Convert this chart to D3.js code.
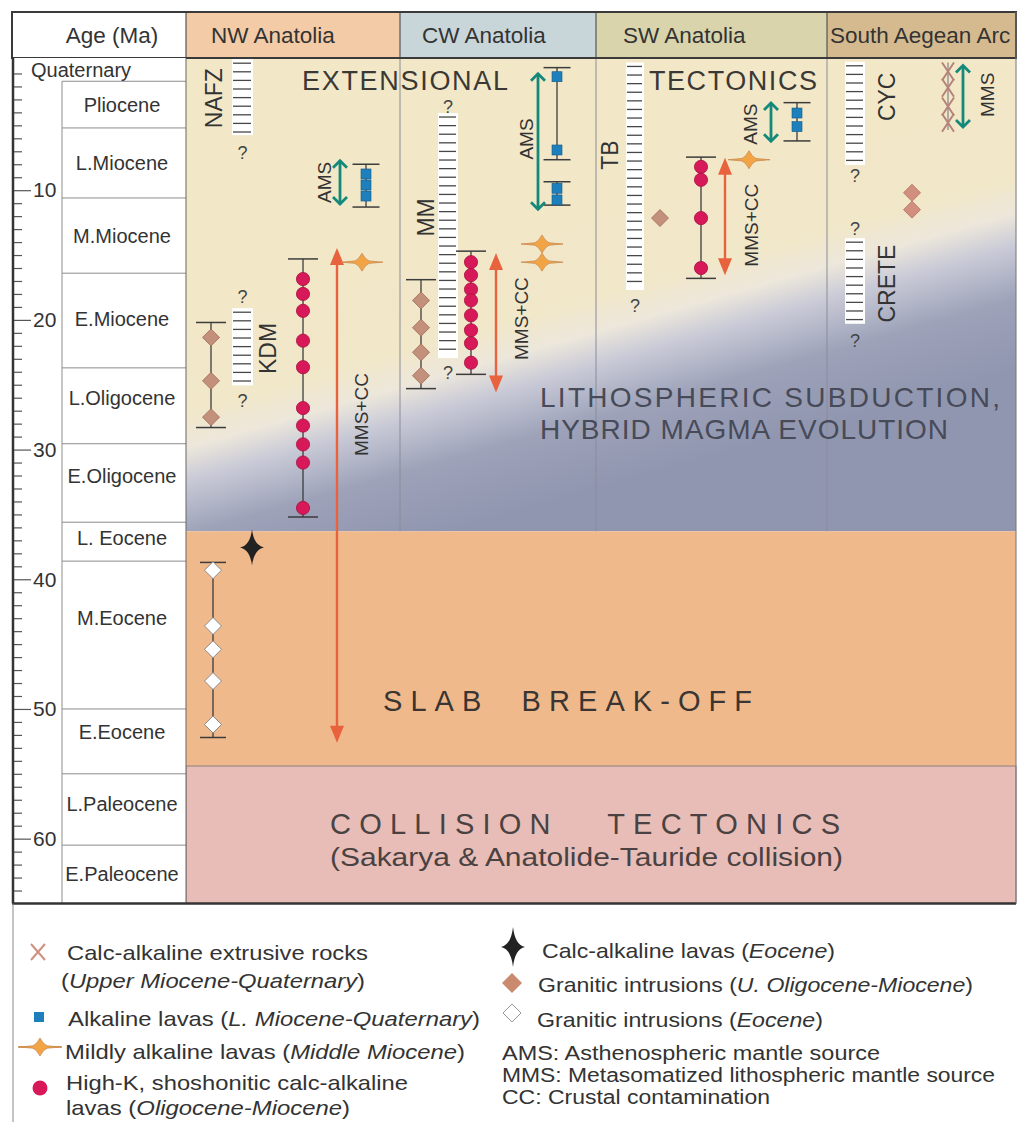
<!DOCTYPE html>
<html><head><meta charset="utf-8">
<script src="https://cdn.jsdelivr.net/npm/d3@7"></script>
<style>
body{margin:0;background:#fff}
svg{display:block;font-family:"Liberation Sans",Arial,Helvetica,sans-serif}
</style>
</head><body>
<svg id="chart" width="1018" height="1122"></svg>
<script>
// ---------------- DATA ----------------
const regions = ["NW Anatolia", "CW Anatolia", "SW Anatolia", "South Aegean Arc"];
const epochNames = ["Quaternary","Pliocene","L.Miocene","M.Miocene","E.Miocene","L.Oligocene","E.Oligocene","L. Eocene","M.Eocene","E.Eocene","L.Paleocene","E.Paleocene"];
const epochBounds = [-0.2, 1.6, 5.2, 10.6, 16.4, 23.7, 29.55, 35.6, 38.6, 50.0, 55.0, 60.5, 65];
const epochLabelAges = [0.75, 3.4, 7.9, 13.5, 19.9, 26.0, 32.0, 36.8, 43.0, 51.8, 57.3, 62.7];
const majorTicks = [10, 20, 30, 40, 50, 60];
const stageNames = ["EXTENSIONAL TECTONICS", "SLAB BREAK-OFF", "COLLISION TECTONICS"];
const stageBounds = [-0.2, 36.3, 54.4, 65];
const subductionText = ["LITHOSPHERIC SUBDUCTION,", "HYBRID MAGMA EVOLUTION"];
const collisionSub = "(Sakarya & Anatolide-Tauride collision)";

// hatched bars of metamorphic/volcanic provinces (ages, Ma)
const provinces = [
  {name:"NAFZ",  lane:"nwBar", from:-0.1,  to:5.75,  qTop:null,  qBot:7.1,  labelLane:"nafzLbl", labelAt:2.9},
  {name:"KDM",   lane:"nwBar", from:19.1,  to:25.05, qTop:18.25, qBot:26.2, labelLane:"kdmLbl",  labelAt:22.2},
  {name:"MM",    lane:"cwBar", from:4.05,  to:22.95, qTop:3.55,  qBot:24.05,labelLane:"mmLbl",   labelAt:12.1},
  {name:"TB",    lane:"swBar", from:0.15,  to:17.7,  qTop:null,  qBot:18.9, labelLane:"tbLbl",   labelAt:7.3},
  {name:"CYC",   lane:"saBar", from:0.1,   to:8.05,  qTop:null,  qBot:8.85, labelLane:"saLbl",   labelAt:2.8},
  {name:"CRETE", lane:"saBar", from:13.7,  to:20.3,  qTop:12.95, qBot:21.6, labelLane:"saLbl",   labelAt:17.2}
];
// age ranges with caps
const ranges = [
  {kind:"granite",    lane:"nwDia",   from:20.2,  to:28.3},
  {kind:"hik",        lane:"nwRed",   from:15.3,  to:35.2},
  {kind:"alk",        lane:"nwBlue",  from:8.0,   to:11.3},
  {kind:"eocGranite", lane:"nwWhite", from:38.7,  to:52.2},
  {kind:"granite",    lane:"cwDia",   from:16.9,  to:25.3},
  {kind:"hik",        lane:"cwRed",   from:14.7,  to:24.2},
  {kind:"alk",        lane:"cwBlue",  from:0.55,  to:7.65},
  {kind:"alk",        lane:"cwBlue",  from:9.35,  to:11.15},
  {kind:"hik",        lane:"swRed",   from:7.45,  to:16.8},
  {kind:"alk",        lane:"swBlue",  from:3.25,  to:6.2},
  {kind:"calcx",      lane:"saX",     from:0.15,  to:5.35}
];
const graniteMio = [
  {lane:"nwDia", age:21.35}, {lane:"nwDia", age:24.7}, {lane:"nwDia", age:27.5},
  {lane:"cwDia", age:18.5}, {lane:"cwDia", age:20.6}, {lane:"cwDia", age:22.5}, {lane:"cwDia", age:24.3},
  {lane:"swDia", age:12.15},
  {lane:"saDia", age:10.2}, {lane:"saDia", age:11.5}
];
const graniteEoc = [
  {lane:"nwWhite", age:39.3}, {lane:"nwWhite", age:43.6}, {lane:"nwWhite", age:45.4},
  {lane:"nwWhite", age:47.85}, {lane:"nwWhite", age:51.2}
];
const highK = [
  {lane:"nwRed", age:16.85}, {lane:"nwRed", age:18.0}, {lane:"nwRed", age:19.3}, {lane:"nwRed", age:21.6},
  {lane:"nwRed", age:23.65}, {lane:"nwRed", age:26.8}, {lane:"nwRed", age:28.15}, {lane:"nwRed", age:29.6},
  {lane:"nwRed", age:31.0}, {lane:"nwRed", age:34.5},
  {lane:"cwRed", age:15.55}, {lane:"cwRed", age:16.55}, {lane:"cwRed", age:17.65}, {lane:"cwRed", age:18.5},
  {lane:"cwRed", age:19.65}, {lane:"cwRed", age:20.8}, {lane:"cwRed", age:21.8}, {lane:"cwRed", age:23.3},
  {lane:"swRed", age:8.2}, {lane:"swRed", age:9.2}, {lane:"swRed", age:12.15}, {lane:"swRed", age:16.0}
];
const alkaline = [
  {lane:"nwBlue", age:8.75}, {lane:"nwBlue", age:9.6}, {lane:"nwBlue", age:10.45},
  {lane:"cwBlue", age:1.25}, {lane:"cwBlue", age:6.9}, {lane:"cwBlue", age:9.85}, {lane:"cwBlue", age:10.75},
  {lane:"swBlue", age:4.05}, {lane:"swBlue", age:5.1}
];
const mildAlk = [
  {lane:"nwStar", age:15.55}, {lane:"cwStar", age:14.15}, {lane:"cwStar", age:15.55}, {lane:"swStar", age:7.65}
];
const calcEocene = [{lane:"nwBlack", age:37.55}];
const calcExtrusive = [{lane:"saX", age:0.85}, {lane:"saX", age:2.1}, {lane:"saX", age:3.55}, {lane:"saX", age:4.8}];
const sources = [
  {label:"AMS",    kind:"ams", lane:"nwTeal",  from:7.65, to:11.15, textLane:"nwAmsTxt", textAt:9.4},
  {label:"MMS+CC", kind:"mms", lane:"nwArrow", from:14.45,to:52.6,  textLane:"nwMmsTxt", textAt:27.3},
  {label:"AMS",    kind:"ams", lane:"cwTeal",  from:0.95, to:11.55, textLane:"cwAmsTxt", textAt:6.05},
  {label:"MMS+CC", kind:"mms", lane:"cwArrow", from:14.85,to:25.6,  textLane:"cwMmsTxt", textAt:19.9},
  {label:"AMS",    kind:"ams", lane:"swTeal",  from:3.2,  to:6.3,   textLane:"swAmsTxt", textAt:4.9},
  {label:"MMS+CC", kind:"mms", lane:"swArrow", from:7.5,  to:16.55, textLane:"swMmsTxt", textAt:12.7},
  {label:"MMS",    kind:"ams", lane:"saTeal",  from:0.3,  to:5.2,   textLane:"saMmsTxt", textAt:2.65}
];
const legendLeft = [
  {sym:"x",      lines:[[{t:"Calc-alkaline extrusive rocks"}], [{t:"("},{t:"Upper Miocene-Quaternary",i:1},{t:")"}]]},
  {sym:"square", lines:[[{t:"Alkaline lavas ("},{t:"L. Miocene-Quaternary",i:1},{t:")"}]]},
  {sym:"spark",  lines:[[{t:"Mildly alkaline lavas ("},{t:"Middle Miocene",i:1},{t:")"}]]},
  {sym:"circle", lines:[[{t:"High-K, shoshonitic calc-alkaline"}], [{t:"lavas ("},{t:"Oligocene-Miocene",i:1},{t:")"}]]}
];
const legendRight = [
  {sym:"star",    lines:[[{t:"Calc-alkaline lavas ("},{t:"Eocene",i:1},{t:")"}]]},
  {sym:"diamond", lines:[[{t:"Granitic intrusions ("},{t:"U. Oligocene-Miocene",i:1},{t:")"}]]},
  {sym:"wdiamond",lines:[[{t:"Granitic intrusions ("},{t:"Eocene",i:1},{t:")"}]]}
];
const abbreviations = ["AMS: Asthenospheric mantle source", "MMS: Metasomatized lithospheric mantle source", "CC: Crustal contamination"];

// ---------------- LAYOUT ----------------
const svg = d3.select("#chart");
const HEAD_TOP = 12, HEAD_BOT = 58, LEFT = 12, AXIS_X = 13, EPOCH_L = 62, X0 = 186, X1 = 1016;
const regionEdges = [186, 400, 596, 827, 1016];
const headerFill = ["#f3cba6", "#c9d6d9", "#d9d4ab", "#d6ba8f"];
const headerTextX = [211, 422, 623, 830];
const y = d3.scaleLinear().domain([0, 65]).range([60.5, 903.5]);
const lanes = {
  nwBar:[232,253], cwBar:[438,458], swBar:[626,644], saBar:[845,865],
  nafzLbl:214, kdmLbl:268, mmLbl:426, tbLbl:610, saLbl:887,
  nwDia:211, nwWhite:213, nwRed:303, nwArrow:337, nwStar:362, nwTeal:340, nwBlue:366,
  nwAmsTxt:324, nwMmsTxt:361, nwBlack:252,
  cwDia:421, cwRed:471, cwArrow:496, cwStar:542, cwTeal:538, cwBlue:557, cwAmsTxt:526, cwMmsTxt:521,
  swDia:660, swRed:701, swArrow:725, swStar:749, swTeal:771, swBlue:797, swAmsTxt:750, swMmsTxt:751,
  saDia:912, saX:948, saTeal:963, saMmsTxt:987
};
const capW = {granite:30, hik:30, alk:27, eocGranite:26, calcx:0};
const C = {
  text:"#333", line:"#3c3c3c", red:"#d7195a", redS:"#a8103f", blue:"#1e7fbd", blueS:"#135a88",
  brown:"#c3907b", brownS:"#9a6a58", teal:"#14897a", arrow:"#e8633d", orange:"#f2a444", orangeS:"#c98a50"
};

function star4(rx, ry, k){
  return `M0,${-ry} Q${k},${-k} ${rx},0 Q${k},${k} 0,${ry} Q${-k},${k} ${-rx},0 Q${-k},${-k} 0,${-ry}Z`;
}
const sparkPath = "M-21,0 L-7,-1.2 Q-3,-3 0,-9 Q3,-3 7,-1.2 L21,0 L7,1.2 Q3,3 0,9 Q-3,3 -7,1.2 Z";
function diamondPath(h){ return `M0,${-h} L${h},0 L0,${h} L${-h},0Z`; }

// ---------------- DEFS ----------------
const defs = svg.append("defs");
const grad = defs.append("linearGradient").attr("id","extGrad").attr("gradientUnits","userSpaceOnUse")
  .attr("x1",562).attr("y1",211).attr("x2",638).attr("y2",479);
[[0,"#f2e8c8"],[0.33,"#f1e7c9"],[0.45,"#ede7db"],[0.56,"#cacbd7"],[0.75,"#9da2b9"],[1,"#9196b0"]]
  .forEach(([o,c]) => grad.append("stop").attr("offset",o).attr("stop-color",c));

// ---------------- STAGE BANDS ----------------
const stageFill = ["url(#extGrad)", "#f0b98b", "#e8bdb7"];
svg.selectAll("rect.stage").data(stageNames).join("rect").attr("class","stage")
  .attr("x", X0).attr("width", X1 - X0)
  .attr("y", (d,i) => i === 0 ? HEAD_BOT : y(stageBounds[i]))
  .attr("height", (d,i) => y(stageBounds[i+1]) - (i === 0 ? HEAD_BOT : y(stageBounds[i])))
  .attr("fill", (d,i) => stageFill[i]);
svg.append("rect").attr("x", X0).attr("y", y(stageBounds[2])).attr("width", X1 - X0)
  .attr("height", y(65) - y(stageBounds[2])).attr("fill","none").attr("stroke","#8f7f7f").attr("stroke-width",1);

// column dividers in extensional stage
svg.selectAll("line.div").data(regionEdges.slice(1,4)).join("line").attr("class","div")
  .attr("x1", d => d).attr("x2", d => d).attr("y1", HEAD_BOT).attr("y2", y(stageBounds[1]))
  .attr("stroke","#8a8c98").attr("stroke-width",1);

// ---------------- BIG TEXTS ----------------
const big = svg.append("g").attr("fill","#3b3935").style("white-space","pre");
big.append("text").attr("x",302).attr("y",90).attr("font-size",27).attr("textLength",206).attr("lengthAdjust","spacing")
  .text(stageNames[0].split(" ")[0]);
big.append("text").attr("x",649).attr("y",90).attr("font-size",27).attr("textLength",168).attr("lengthAdjust","spacing")
  .text(stageNames[0].split(" ")[1]);
const sub = svg.append("g").attr("fill","#474a57").attr("font-size",28);
sub.append("text").attr("x",540).attr("y",407).attr("textLength",460).attr("lengthAdjust","spacing").text(subductionText[0]);
sub.append("text").attr("x",540).attr("y",439).attr("textLength",408).attr("lengthAdjust","spacing").text(subductionText[1]);
svg.append("text").attr("x",383).attr("y",711).attr("font-size",29).attr("fill","#3a3532")
  .style("white-space","pre").attr("textLength",369).attr("lengthAdjust","spacing")
  .text(stageNames[1].replace(" ","  "));
svg.append("text").attr("x",330).attr("y",834).attr("font-size",29).attr("fill","#4a4242")
  .style("white-space","pre").attr("textLength",510).attr("lengthAdjust","spacing")
  .text(stageNames[2].replace(" ","   "));
svg.append("text").attr("x",330).attr("y",866).attr("font-size",25).attr("fill","#4a4242")
  .attr("textLength",513).attr("lengthAdjust","spacingAndGlyphs").text(collisionSub);

// ---------------- HEADER ----------------
svg.append("rect").attr("x",LEFT).attr("y",HEAD_TOP).attr("width",X0-LEFT).attr("height",HEAD_BOT-HEAD_TOP).attr("fill","#fff");
svg.selectAll("rect.head").data(regions).join("rect").attr("class","head")
  .attr("x",(d,i)=>regionEdges[i]).attr("y",HEAD_TOP).attr("width",(d,i)=>regionEdges[i+1]-regionEdges[i])
  .attr("height",HEAD_BOT-HEAD_TOP).attr("fill",(d,i)=>headerFill[i]);
svg.selectAll("line.hdiv").data(regionEdges.slice(0,4)).join("line").attr("class","hdiv")
  .attr("x1",d=>d).attr("x2",d=>d).attr("y1",HEAD_TOP).attr("y2",HEAD_BOT).attr("stroke","#555").attr("stroke-width",1.2);
svg.selectAll("text.head").data(regions).join("text").attr("class","head")
  .attr("x",(d,i)=>headerTextX[i]).attr("y",43).attr("font-size",22.5).attr("fill","#333").text(d=>d);
svg.append("text").attr("x",112).attr("y",43).attr("font-size",22.5).attr("fill","#333").attr("text-anchor","middle").text("Age (Ma)");
svg.append("rect").attr("x",LEFT).attr("y",HEAD_TOP).attr("width",X1-LEFT).attr("height",HEAD_BOT-HEAD_TOP)
  .attr("fill","none").attr("stroke","#3a3a3a").attr("stroke-width",2);

// ---------------- EPOCH COLUMN ----------------
svg.append("rect").attr("x",LEFT).attr("y",HEAD_BOT).attr("width",X0-LEFT).attr("height",y(65)-HEAD_BOT).attr("fill","#fff");
svg.selectAll("line.ep").data(epochBounds.slice(1,-1)).join("line").attr("class","ep")
  .attr("x1",EPOCH_L).attr("x2",X0).attr("y1",d=>y(d)).attr("y2",d=>y(d)).attr("stroke","#8c8c8c").attr("stroke-width",1);
svg.append("line").attr("x1",EPOCH_L).attr("x2",EPOCH_L).attr("y1",y(epochBounds[1])).attr("y2",y(65)).attr("stroke","#8c8c8c");
svg.append("line").attr("x1",X0).attr("x2",X0).attr("y1",HEAD_BOT).attr("y2",y(65)).attr("stroke","#666");
svg.selectAll("text.ep").data(epochNames).join("text").attr("class","ep")
  .attr("x",(d,i)=> i===0 ? 31 : 122).attr("text-anchor",(d,i)=> i===0 ? "start" : "middle")
  .attr("y",(d,i)=>y(epochLabelAges[i])).attr("dy","0.35em").attr("font-size",20).attr("fill","#333").text(d=>d);

// age axis
const minorAx = d3.axisRight(y).tickValues(d3.range(0,65).filter(v=>v%10!==0)).tickSize(9).tickFormat("").tickSizeOuter(0);
const gMin = svg.append("g").attr("transform",`translate(${AXIS_X},0)`).call(minorAx);
const majorAx = d3.axisRight(y).tickValues(majorTicks).tickSize(18).tickPadding(2).tickSizeOuter(0);
const gMaj = svg.append("g").attr("transform",`translate(${AXIS_X},0)`).call(majorAx);
[gMin,gMaj].forEach(g=>{ g.select(".domain").remove(); g.selectAll("line").attr("stroke","#555").attr("stroke-width",1.2); });
gMaj.selectAll("text").attr("font-size",21).attr("fill","#333").attr("font-family","Liberation Sans, Arial, sans-serif");
svg.append("line").attr("x1",AXIS_X).attr("x2",AXIS_X).attr("y1",HEAD_BOT).attr("y2",y(65)).attr("stroke","#333").attr("stroke-width",2.5);
svg.append("line").attr("x1",LEFT).attr("x2",X1).attr("y1",y(65)).attr("y2",y(65)).attr("stroke","#333").attr("stroke-width",2.5);
svg.append("line").attr("x1",X1).attr("x2",X1).attr("y1",HEAD_TOP).attr("y2",y(65)).attr("stroke","#777").attr("stroke-width",1);
svg.append("line").attr("x1",AXIS_X).attr("x2",AXIS_X).attr("y1",y(65)).attr("y2",1122).attr("stroke","#888").attr("stroke-width",1);

// ---------------- PROVINCE BARS ----------------
const gBars = svg.append("g");
provinces.forEach(p=>{
  const [xa,xb] = lanes[p.lane];
  const ya = Math.max(y(p.from), HEAD_BOT+1), yb = y(p.to);
  gBars.append("rect").attr("x",xa).attr("y",ya).attr("width",xb-xa).attr("height",yb-ya).attr("fill","#fff");
  gBars.selectAll(null).data(d3.range(ya+4, yb-1, 8.6)).join("line")
    .attr("x1",xa+1).attr("x2",xb-2).attr("y1",d=>d).attr("y2",d=>d).attr("stroke","#474747").attr("stroke-width",1.3);
  const qs = [p.qTop, p.qBot].filter(v=>v!==null);
  gBars.selectAll(null).data(qs).join("text").attr("x",(xa+xb)/2).attr("y",d=>y(d)).attr("dy","0.35em")
    .attr("text-anchor","middle").attr("font-size",18).attr("fill","#444").text("?");
  gBars.append("text").attr("transform",`translate(${lanes[p.labelLane]},${y(p.labelAt)}) rotate(-90)`)
    .attr("text-anchor","middle").attr("dy","0.36em").attr("font-size",23).attr("fill","#333").text(p.name);
});

// ---------------- RANGES ----------------
const gR = svg.append("g");
ranges.forEach(r=>{
  const x = lanes[r.lane];
  gR.append("line").attr("x1",x).attr("x2",x).attr("y1",y(r.from)).attr("y2",y(r.to))
    .attr("stroke", r.kind==="calcx" ? "#8a8a8a" : C.line).attr("stroke-width",1.3);
  if (capW[r.kind]) [r.from, r.to].forEach(a=>{
    gR.append("line").attr("x1",x-capW[r.kind]/2).attr("x2",x+capW[r.kind]/2).attr("y1",y(a)).attr("y2",y(a))
      .attr("stroke",C.line).attr("stroke-width",1.5);
  });
});

// ---------------- SOURCE ARROWS ----------------
const gA = svg.append("g");
sources.forEach(s=>{
  const x = lanes[s.lane], ya = y(s.from), yb = y(s.to);
  if (s.kind === "ams"){
    gA.append("line").attr("x1",x).attr("x2",x).attr("y1",ya+1).attr("y2",yb-1).attr("stroke",C.teal).attr("stroke-width",2.8);
    gA.append("path").attr("d",`M${x-7},${ya+8} L${x},${ya+1} L${x+7},${ya+8}`).attr("fill","none").attr("stroke",C.teal).attr("stroke-width",2.8);
    gA.append("path").attr("d",`M${x-7},${yb-8} L${x},${yb-1} L${x+7},${yb-8}`).attr("fill","none").attr("stroke",C.teal).attr("stroke-width",2.8);
  } else {
    gA.append("line").attr("x1",x).attr("x2",x).attr("y1",ya+10).attr("y2",yb-10).attr("stroke",C.arrow).attr("stroke-width",2.4);
    gA.append("path").attr("d",`M${x},${ya} L${x-7},${ya+17} L${x+7},${ya+17}Z`).attr("fill",C.arrow);
    gA.append("path").attr("d",`M${x},${yb} L${x-7},${yb-17} L${x+7},${yb-17}Z`).attr("fill",C.arrow);
  }
  gA.append("text").attr("transform",`translate(${lanes[s.textLane]},${y(s.textAt)}) rotate(-90)`)
    .attr("text-anchor","middle").attr("dy","0.36em").attr("font-size",19).attr("fill","#333").text(s.label);
});

// ---------------- POINT SYMBOLS ----------------
const gP = svg.append("g");
gP.selectAll("path.gm").data(graniteMio).join("path").attr("class","gm")
  .attr("transform",d=>`translate(${lanes[d.lane]},${y(d.age)})`).attr("d",diamondPath(8.5))
  .attr("fill",d=>d.lane==="saDia" ? "#d38f7e" : C.brown).attr("stroke",d=>d.lane==="saDia" ? "#b07060" : C.brownS).attr("stroke-width",0.8);
gP.selectAll("path.ge").data(graniteEoc).join("path").attr("class","ge")
  .attr("transform",d=>`translate(${lanes[d.lane]},${y(d.age)})`).attr("d",diamondPath(8.5))
  .attr("fill","#fff").attr("stroke","#8a8a8a").attr("stroke-width",1);
gP.selectAll("rect.al").data(alkaline).join("rect").attr("class","al")
  .attr("x",d=>lanes[d.lane]-5).attr("y",d=>y(d.age)-5).attr("width",10).attr("height",10)
  .attr("fill",C.blue).attr("stroke",C.blueS).attr("stroke-width",0.6);
gP.selectAll("circle.hk").data(highK).join("circle").attr("class","hk")
  .attr("cx",d=>lanes[d.lane]).attr("cy",d=>y(d.age)).attr("r",6.6)
  .attr("fill",C.red).attr("stroke",C.redS).attr("stroke-width",0.8);
gP.selectAll("path.ma").data(mildAlk).join("path").attr("class","ma")
  .attr("transform",d=>`translate(${lanes[d.lane]},${y(d.age)})`).attr("d",sparkPath)
  .attr("fill",C.orange).attr("stroke",C.orangeS).attr("stroke-width",0.8);
gP.selectAll("path.ce").data(calcEocene).join("path").attr("class","ce")
  .attr("transform",d=>`translate(${lanes[d.lane]},${y(d.age)})`).attr("d",star4(12,18,2)).attr("fill","#222");
gP.selectAll("path.cx").data(calcExtrusive).join("path").attr("class","cx")
  .attr("transform",d=>`translate(${lanes[d.lane]},${y(d.age)})`).attr("d","M-6,-9 L6,9 M6,-9 L-6,9")
  .attr("stroke","#b5837a").attr("stroke-width",2).attr("fill","none");

// ---------------- LEGEND ----------------
const gL = svg.append("g").attr("font-size",21).attr("fill","#333");
function drawSym(sym, x, yy){
  if (sym==="x") gL.append("path").attr("d",`M${x-7},${yy-8} L${x+7},${yy+8} M${x+7},${yy-8} L${x-7},${yy+8}`).attr("stroke","#d09080").attr("stroke-width",2).attr("fill","none");
  if (sym==="square") gL.append("rect").attr("x",x-5).attr("y",yy-5).attr("width",10).attr("height",10).attr("fill",C.blue);
  if (sym==="spark") { gL.append("line").attr("x1",x-22).attr("x2",x+22).attr("y1",yy).attr("y2",yy).attr("stroke",C.orangeS).attr("stroke-width",1.4);
    gL.append("path").attr("transform",`translate(${x},${yy})`).attr("d",sparkPath).attr("fill",C.orange).attr("stroke",C.orangeS).attr("stroke-width",0.8); }
  if (sym==="circle") gL.append("circle").attr("cx",x).attr("cy",yy).attr("r",7.5).attr("fill",C.red);
  if (sym==="star") gL.append("path").attr("transform",`translate(${x},${yy})`).attr("d",star4(12,20,2)).attr("fill","#222");
  if (sym==="diamond") gL.append("path").attr("transform",`translate(${x},${yy})`).attr("d",diamondPath(10)).attr("fill","#c98a70");
  if (sym==="wdiamond") gL.append("path").attr("transform",`translate(${x},${yy})`).attr("d",diamondPath(9)).attr("fill","#fff").attr("stroke","#999");
}
function drawLines(lines, xs, baselines, widths){
  lines.forEach((segs,k)=>{
    const t = gL.append("text").attr("x",xs[k]).attr("y",baselines[k])
      .attr("textLength",widths[k]).attr("lengthAdjust","spacingAndGlyphs");
    segs.forEach(s=> t.append("tspan").attr("font-style", s.i ? "italic" : "normal").text(s.t));
  });
}
const leftSymPos = [[38,952],[39,1017],[40,1047],[40,1088]];
const leftTextX = [[67,61],[68],[65],[66,66]];
const leftBase = [[960,988],[1026],[1059],[1090,1115]];
const leftWidths = [[301,304],[412],[400],[342,284]];
legendLeft.forEach((e,i)=>{ drawSym(e.sym, ...leftSymPos[i]); drawLines(e.lines, leftTextX[i], leftBase[i], leftWidths[i]); });
const rightSymPos = [[513,947],[512,983],[512,1013]];
const rightTextX = [[542],[538],[537]];
const rightBase = [[958],[992],[1027]];
const rightWidths = [[293],[435],[286]];
legendRight.forEach((e,i)=>{ drawSym(e.sym, ...rightSymPos[i]); drawLines(e.lines, rightTextX[i], rightBase[i], rightWidths[i]); });
const abbrWidths = [378, 493, 268];
abbreviations.forEach((a,i)=> gL.append("text").attr("x",502).attr("y",[1060,1082,1104][i]).attr("font-size",19.5)
  .attr("textLength",abbrWidths[i]).attr("lengthAdjust","spacingAndGlyphs").text(a));
</script>
</body></html>
